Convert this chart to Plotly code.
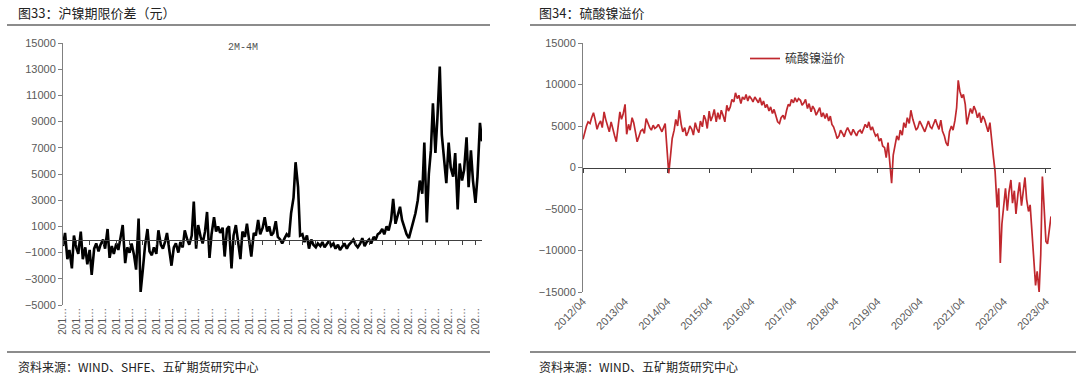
import pandas as pd
import plotly.graph_objects as go

# ---------------- data ----------------
# Left: SHFE nickel 2M-4M spread (yuan), semi-monthly from 2015-04
spread_values = [
    -500, 500, -1500, -800, -2200, 300, -600, -1100, 600, -1500,
    -600, -1900, -800, -2700, -700, -300, -900, -400, 0, -700,
    800, -1400, -500, -1100, -300, -800, 200, 1100, -1800, -600,
    -1000, -300, -1200, -2300, 1600, -4000, -2200, -500, 800, -900,
    -1200, -600, -1100, 700, -400, -700, -200, 500, -900, -2000,
    -600, -300, -1000, -200, -600, 700, 0, -400, 300, 2900,
    -700, 1100, 200, -300, 600, 2100, -1400, 400, 1700, 600,
    1000, 500, 900, -1300, 800, 1000, -2200, 300, 1100, 0,
    -1500, 600, 200, 1200, 0, -1300, 500, 300, 1500, 400,
    900, 1700, 600, 1000, 300, 500, 1400, 200, 0, -300,
    100, 400, 200, 2000, 3200, 5900, 4000, 300, 400, -200,
    300, -700, 0, -400, -600, -300, -500, -200, -600, -400,
    -100, -500, -300, -700, -400, -800, -500, -300, -700, -400,
    -200, 0, -400, -600, -300, 100, -500, -200, 0, -300,
    200, 0, 400, 500, 800, 400, 1000, 700, 1500, 3100,
    1200, 1800, 2500, 1500, 900, 400, 100, 800, 1400, 2000,
    3000, 4500, 3500, 7400, 1300, 5000, 6800, 10400, 6600, 9300,
    13200, 8000, 6100, 4300, 7400, 5500, 4800, 6600, 2300, 5800,
    4500, 5300, 7800, 4000, 6800, 4500, 2800, 4800, 8900, 7500,
]
spread_start = "2015-04-01"
spread_ticks = pd.date_range("2015-04-01", "2023-01-01", freq="QS-JAN")
spread_ticktext = [("201…" if d.year < 2020 else "202…") for d in spread_ticks]
spread_yticks = list(range(-5000, 15001, 2000))

# Right: nickel sulphate premium, semi-monthly from 2012-04
premium_values = [
    3400, 4300, 5000, 5500, 5300, 6000, 6600, 5800, 4600, 5200, 5600, 4800,
    6700, 5800, 5000, 4300, 5500, 4600, 3800, 3100, 5200, 6700, 5800, 6400,
    7600, 4000, 5200, 4500, 6000, 5400, 4200, 3100, 3800, 4400, 4600, 4100,
    5900, 5300, 4800, 4500, 5100, 4700, 4900, 5200, 4600, 4300, 4800, 5300,
    2000, -700, 1500, 3500, 4500, 5800, 5000, 6900, 5200, 4300, 4800, 3800,
    4300, 5000, 4600, 3900, 5400, 4700, 4200, 5600, 4900, 6300, 5800, 4700,
    6800, 5600, 6200, 7000, 5500, 6600, 5800, 6900, 6200, 5500, 7500, 6800,
    7300, 8200, 7900, 9000, 8300, 8700, 7700, 8500, 8200, 8800, 8000, 8600,
    8300, 7900, 8500, 8200, 7800, 8400, 7500, 8000, 7200, 7600, 6800, 7300,
    6500, 7000, 6200, 5500, 5300, 6000, 6300, 5800, 6900, 7600, 7400, 8200,
    7800, 8400, 7900, 8300, 8100, 7500, 7800, 8200, 7100, 7700, 6700, 7400,
    7000, 6300, 6800, 7200, 6100, 6600, 5900, 6500, 5600, 6200, 5200, 4900,
    4200, 3500, 3800, 4500, 4100, 3700, 4400, 4800, 4300, 3900, 4600, 4200,
    3800, 4300, 4500, 4100, 4700, 5200, 4800, 5500, 4500, 4900, 4300, 3800,
    4000, 3200, 3500, 2600, 2400, 1200, 3000, 1000, -1900, 1500, 3000, 3800,
    3300, 4500, 3900, 5400, 4800, 6000, 5300, 6900, 5800, 5200, 4500, 4800,
    5600, 5200, 4600, 4300, 5000, 5600, 4900, 4700, 5300, 5800, 5100, 4600,
    5700, 4400, 3800, 3000, 2600, 4300, 5000, 4500, 5700, 7200, 10500, 9200,
    8400, 8800, 7600, 5200, 6300, 7100, 6500, 7400, 6800, 6000, 6600, 5400,
    6200, 5800, 5000, 4300, 5400, 3100, 1200, -500, -4800, -2500, -11500, -6800,
    -3900, -2500, -5200, -3000, -1500, -4300, -2800, -5600, -3200, -1800, -4600, -2900,
    -1200, -3800, -5300, -4500, -7800, -12000, -14200, -12500, -15000, -10500, -1100, -4500,
    -8900, -9200, -7600, -5900,
]
premium_start = "2012-04-01"
premium_ticks = pd.date_range("2012-04-01", "2023-04-01", freq="12MS")
premium_ticktext = [d.strftime("%Y/%m") for d in premium_ticks]
premium_yticks = list(range(-15000, 15001, 5000))

spread_dates = pd.date_range(spread_start, periods=len(spread_values), freq="SMS")
premium_dates = pd.date_range(premium_start, periods=len(premium_values), freq="SMS")

# ---------------- layout geometry ----------------
W, H = 1080, 380
def px(x): return x / W
def py(y): return 1 - y / H

LX = [px(63), px(482)]
LY = [py(305), py(43)]
RX = [px(583), px(1051)]
RY = [py(292), py(43)]
l_zero = LY[0] + (LY[1] - LY[0]) * (5000 / 20000)
r_zero = RY[0] + (RY[1] - RY[0]) * 0.5

AX_GRAY = "#808080"
TXT_GRAY = "#595959"
RED = "#C0282E"

fig = go.Figure()
fig.add_trace(go.Scatter(x=spread_dates, y=spread_values, mode="lines",
                         line=dict(color="#000000", width=2.6),
                         xaxis="x", yaxis="y", showlegend=False, name="2M-4M"))
fig.add_trace(go.Scatter(x=spread_dates, y=spread_values, mode="lines",
                         line=dict(color="rgba(0,0,0,0)", width=0),
                         xaxis="x3", yaxis="y", showlegend=False, hoverinfo="skip"))
fig.add_trace(go.Scatter(x=premium_dates, y=premium_values, mode="lines",
                         line=dict(color=RED, width=1.7),
                         xaxis="x2", yaxis="y2", showlegend=True, name="硫酸镍溢价"))
fig.add_trace(go.Scatter(x=premium_dates, y=premium_values, mode="lines",
                         line=dict(color="rgba(0,0,0,0)", width=0),
                         xaxis="x4", yaxis="y2", showlegend=False, hoverinfo="skip"))

tickfont = dict(family="Liberation Sans, Arial, sans-serif", size=11, color=TXT_GRAY)
l_range = [spread_dates[0], spread_dates[-1]]
r_range = [premium_dates[0], premium_dates[-1]]

fig.update_layout(
    template="none",
    width=W, height=H,
    margin=dict(l=0, r=0, t=0, b=0),
    paper_bgcolor="white", plot_bgcolor="white",
    hovermode=False,
    xaxis=dict(domain=LX, type="date", range=l_range, anchor="y", automargin=False,
               tickvals=spread_ticks, ticktext=spread_ticktext, tickangle=-90,
               showline=False, ticks="", showgrid=False, zeroline=False,
               tickfont=dict(family="Liberation Sans, Arial, sans-serif", size=10, color=TXT_GRAY)),
    xaxis3=dict(type="date", range=l_range, overlaying="x", anchor="free", position=l_zero,
                automargin=False,
                tickvals=spread_ticks, showticklabels=False, showline=True,
                linecolor="#404040", linewidth=1, ticks="outside", ticklen=4,
                tickcolor="#404040", showgrid=False, zeroline=False),
    yaxis=dict(domain=LY, range=[-5000, 15000], anchor="x", tickvals=spread_yticks,
               tickformat="d", automargin=False,
               showline=True, linecolor=AX_GRAY, linewidth=1, ticks="outside", ticklen=4,
               tickcolor=AX_GRAY, showgrid=False, zeroline=False, tickfont=tickfont),
    xaxis2=dict(domain=RX, type="date", range=r_range, anchor="y2", automargin=False,
                tickvals=premium_ticks, ticktext=premium_ticktext, tickangle=-45,
                showline=False, ticks="", showgrid=False, zeroline=False, tickfont=tickfont),
    xaxis4=dict(type="date", range=r_range, overlaying="x2", anchor="free", position=r_zero,
                automargin=False,
                tickvals=premium_ticks, showticklabels=False, showline=True,
                linecolor="#404040", linewidth=1, ticks="outside", ticklen=4,
                tickcolor="#404040", showgrid=False, zeroline=False),
    yaxis2=dict(domain=RY, range=[-15000, 15000], anchor="x2", tickvals=premium_yticks,
                tickformat="d", automargin=False,
                showline=True, linecolor=AX_GRAY, linewidth=1, ticks="outside", ticklen=4,
                tickcolor=AX_GRAY, showgrid=False, zeroline=False, tickfont=tickfont),
    legend=dict(x=px(745), y=py(44), xanchor="left", yanchor="top",
                bgcolor="rgba(0,0,0,0)", itemwidth=30,
                font=dict(family="Noto Sans CJK SC", size=12, color="#333333")),
)

title_font = dict(family="Noto Sans CJK SC", size=13, color="#222222")
foot_font = dict(family="Noto Sans CJK SC", size=12, color="#222222")
annotations = [
    dict(text="图33：沪镍期限价差（元）", x=px(16), y=py(13), font=title_font),
    dict(text="图34：硫酸镍溢价", x=px(537), y=py(13), font=title_font),
    dict(text="资料来源：WIND、SHFE、五矿期货研究中心", x=px(16), y=py(366), font=foot_font),
    dict(text="资料来源：WIND、五矿期货研究中心", x=px(537), y=py(366), font=foot_font),
    dict(text="2M-4M", x=px(226), y=py(48),
         font=dict(family="Liberation Mono, monospace", size=10, color="#555555")),
]
for a in annotations:
    a.update(xref="paper", yref="paper", xanchor="left", yanchor="middle", showarrow=False)
fig.update_layout(annotations=annotations)

line_style = dict(color="#8c8c8c", width=2)
shapes = [
    dict(type="line", xref="paper", yref="paper", x0=px(7), x1=px(490), y0=py(25), y1=py(25), line=line_style),
    dict(type="line", xref="paper", yref="paper", x0=px(530), x1=px(1076), y0=py(25), y1=py(25), line=line_style),
    dict(type="line", xref="paper", yref="paper", x0=px(7), x1=px(490), y0=py(352), y1=py(352), line=line_style),
    dict(type="line", xref="paper", yref="paper", x0=px(530), x1=px(1076), y0=py(352), y1=py(352), line=line_style),
]
fig.update_layout(shapes=shapes)

fig.write_html("out.html",
               config={"displayModeBar": False},
               post_script="document.body.style.margin='0';document.body.style.padding='0';")
